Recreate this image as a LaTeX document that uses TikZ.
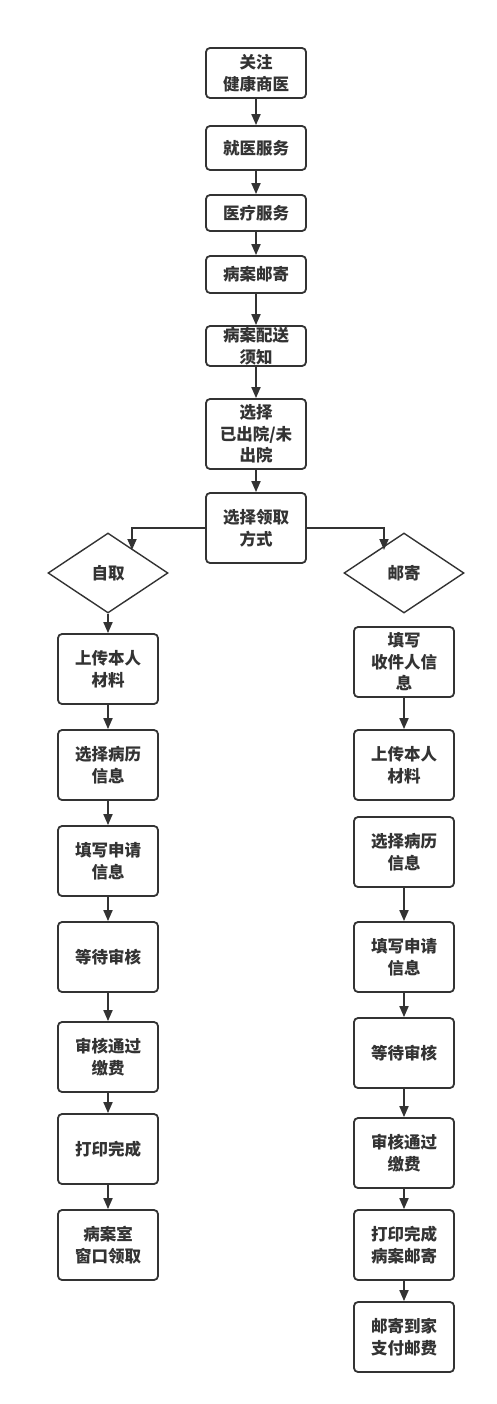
\documentclass[tikz,border=0pt]{standalone}
\usepackage{fontspec}
\newfontfamily\cjk{Noto Sans CJK SC}
\usetikzlibrary{arrows.meta,shapes.geometric}
\definecolor{ink}{HTML}{333333}
\tikzset{
  box/.style={draw=ink, line width=1.8pt, rounded corners=4pt, fill=white,
    minimum width=100pt, text width=92pt, align=center, inner sep=0pt,
    font=\cjk\bfseries\fontsize{16.5pt}{21.5pt}\selectfont, text=ink},
  dia/.style={draw=ink, line width=1.4pt, diamond, aspect=1.5, fill=white,
    minimum width=120pt, minimum height=80pt, inner sep=0pt,
    font=\cjk\bfseries\fontsize{16.5pt}{21.5pt}\selectfont, text=ink},
  arr/.style={draw=ink, line width=1.8pt, -{Triangle[length=11pt,width=9pt]}}
}
\begin{document}
\begin{tikzpicture}[x=1pt,y=-1pt]
\useasboundingbox (0,0) rectangle (496,1404);
% centre column
\node[box, minimum height=50pt] (a1) at (256,73) {关注\\健康商医};
\node[box, minimum height=44pt] (a2) at (256,148) {就医服务};
\node[box, minimum height=36pt] (a3) at (256,213) {医疗服务};
\node[box, minimum height=37pt] (a4) at (256,274.5) {病案邮寄};
\node[box, minimum height=40pt] (a5) at (256,346) {病案配送\\须知};
\node[box, minimum height=70pt] (a6) at (256,434) {选择\\已出院/未\\出院};
\node[box, minimum height=70pt] (a7) at (256,528) {选择领取\\方式};
% diamonds
\node[dia] (d1) at (108,573) {自取};
\node[dia] (d2) at (404,573) {邮寄};
% left column
\node[box, minimum height=70pt] (l1) at (108,669) {上传本人\\材料};
\node[box, minimum height=70pt] (l2) at (108,765) {选择病历\\信息};
\node[box, minimum height=70pt] (l3) at (108,861) {填写申请\\信息};
\node[box, minimum height=70pt] (l4) at (108,957) {等待审核};
\node[box, minimum height=70pt] (l5) at (108,1057) {审核通过\\缴费};
\node[box, minimum height=70pt] (l6) at (108,1149) {打印完成};
\node[box, minimum height=70pt] (l7) at (108,1245) {病案室\\窗口领取};
% right column
\node[box, minimum height=70pt] (r1) at (404,662) {填写\\收件人信\\息};
\node[box, minimum height=70pt] (r2) at (404,765) {上传本人\\材料};
\node[box, minimum height=70pt] (r3) at (404,852) {选择病历\\信息};
\node[box, minimum height=70pt] (r4) at (404,957) {填写申请\\信息};
\node[box, minimum height=70pt] (r5) at (404,1053) {等待审核};
\node[box, minimum height=70pt] (r6) at (404,1153) {审核通过\\缴费};
\node[box, minimum height=70pt] (r7) at (404,1245) {打印完成\\病案邮寄};
\node[box, minimum height=70pt] (r8) at (404,1337) {邮寄到家\\支付邮费};
% centre arrows
\draw[arr] (a1) -- (a2);
\draw[arr] (a2) -- (a3);
\draw[arr] (a3) -- (a4);
\draw[arr] (a4) -- (a5);
\draw[arr] (a5) -- (a6);
\draw[arr] (a6) -- (a7);
% branches
\coordinate (bl) at (132,528);
\coordinate (bl2) at (132,550);
\coordinate (br) at (384,528);
\coordinate (br2) at (384,550);
\draw[arr] (a7.west) -- (bl) -- (bl2);
\draw[arr] (a7.east) -- (br) -- (br2);
% left arrows
\draw[arr] (d1) -- (l1);
\draw[arr] (l1) -- (l2);
\draw[arr] (l2) -- (l3);
\draw[arr] (l3) -- (l4);
\draw[arr] (l4) -- (l5);
\draw[arr] (l5) -- (l6);
\draw[arr] (l6) -- (l7);
% right arrows
\draw[arr] (r1) -- (r2);
\draw[arr] (r3) -- (r4);
\draw[arr] (r4) -- (r5);
\draw[arr] (r5) -- (r6);
\draw[arr] (r6) -- (r7);
\draw[arr] (r7) -- (r8);
\end{tikzpicture}
\end{document}
